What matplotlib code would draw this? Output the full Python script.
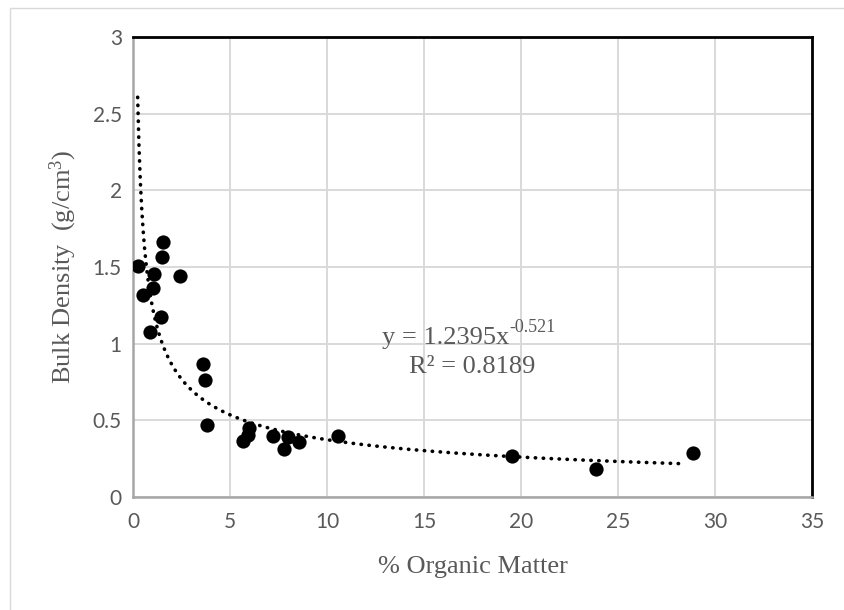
import numpy as np
import matplotlib
matplotlib.use('Agg')
import matplotlib.pyplot as plt
from matplotlib.patches import Rectangle

# % organic matter vs bulk density (g/cm3)
organic_matter = [0.24, 0.53, 0.88, 1.05, 1.07, 1.44, 1.49, 1.56, 2.42,
                  3.59, 3.73, 3.81, 5.65, 5.95, 6.0, 7.21, 7.79, 7.99,
                  8.54, 10.55, 19.52, 23.85, 28.88]
bulk_density = [1.507, 1.318, 1.074, 1.363, 1.455, 1.174, 1.563, 1.665, 1.442,
                0.870, 0.761, 0.468, 0.365, 0.405, 0.452, 0.398, 0.313, 0.392,
                0.357, 0.398, 0.267, 0.180, 0.289]

# power trendline coefficients shown on the chart
coef_a = 1.2395
coef_b = -0.521
r_squared = 0.8189

x_ticks = [0, 5, 10, 15, 20, 25, 30, 35]
y_ticks = [0, 0.5, 1, 1.5, 2, 2.5, 3]

tick_color = '#595959'
grid_color = '#D9D9D9'
serif = 'Liberation Serif'

plt.rcParams['mathtext.fontset'] = 'custom'
plt.rcParams['mathtext.rm'] = serif
plt.rcParams['mathtext.it'] = serif

fig = plt.figure(figsize=(8.44, 6.10), dpi=100)
ax = fig.add_axes([133 / 844, 1 - 497 / 610, (812 - 133) / 844, (497 - 37) / 610])

# chart area border
fig.patches.append(Rectangle((10 / 844, -0.1), 1.2, 1 - 8 / 610 + 0.1,
                             transform=fig.transFigure, fill=False,
                             edgecolor='#D9D9D9', linewidth=1.0))

# trendline
xs = np.linspace(min(organic_matter), 28.4, 400)
ax.plot(xs, coef_a * xs ** coef_b, color='black', linewidth=2.6,
        linestyle=(0, (0.1, 2.1)), dash_capstyle='round', zorder=2)

ax.scatter(organic_matter, bulk_density, s=105, color='black', zorder=3,
           linewidths=0)

ax.set_xlim(0, 35)
ax.set_ylim(0, 3)
ax.set_xticks(x_ticks)
ax.set_yticks(y_ticks)
ax.set_xticklabels([str(t) for t in x_ticks])
ax.set_yticklabels(['0', '0.5', '1', '1.5', '2', '2.5', '3'])
ax.tick_params(length=0, labelsize=15, labelcolor=tick_color)
ax.tick_params(axis='x', pad=11)
ax.tick_params(axis='y', pad=8)
for lbl in ax.get_xticklabels() + ax.get_yticklabels():
    lbl.set_fontfamily('Lato')

ax.grid(True, color=grid_color, linewidth=1.4)
ax.set_axisbelow(True)

ax.spines['top'].set_color('black')
ax.spines['right'].set_color('black')
ax.spines['top'].set_linewidth(2.0)
ax.spines['right'].set_linewidth(2.0)
ax.spines['left'].set_color('#A6A6A6')
ax.spines['bottom'].set_color('#A6A6A6')
ax.spines['left'].set_linewidth(1.8)
ax.spines['bottom'].set_linewidth(1.8)

ax.set_xlabel('% Organic Matter', fontfamily=serif, fontsize=19,
              color=tick_color, labelpad=17)
ax.set_ylabel('Bulk Density  (g/cm$^{3}$)', fontfamily=serif,
              fontsize=19, color=tick_color, labelpad=10)

# trendline equation with superscript exponent
eq = ax.text(12.85, 1.035, 'y = %.4fx' % coef_a, fontfamily=serif, fontsize=19,
             color=tick_color, ha='left', va='center')
ax.annotate('%.3f' % coef_b, xy=(1.0, 0.62), xycoords=eq,
            fontfamily=serif, fontsize=13, color=tick_color,
            ha='left', va='bottom')
ax.text(17.5, 0.85, 'R\u00b2 = %.4f' % r_squared,
        fontfamily=serif, fontsize=19, color=tick_color,
        ha='center', va='center')

fig.savefig('out.png', dpi=100)
